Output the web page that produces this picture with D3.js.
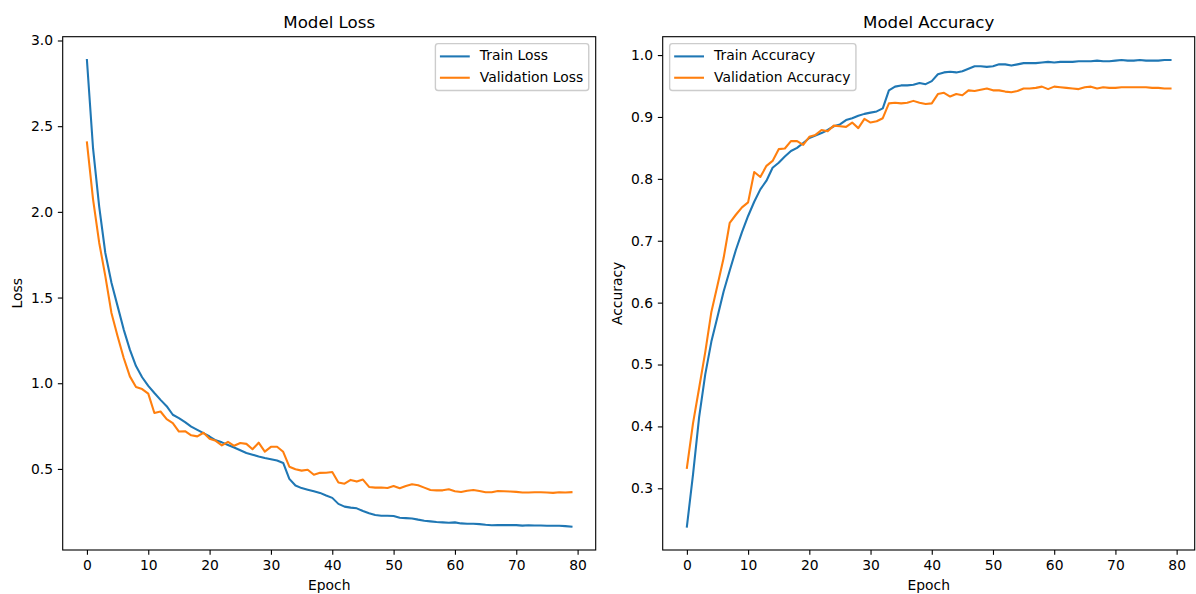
<!DOCTYPE html>
<html>
<head>
<meta charset="utf-8">
<script src="https://cdn.jsdelivr.net/npm/d3@7"></script>
<style>
  html, body { margin: 0; padding: 0; background: #ffffff; }
  svg { display: block; }
  text { font-family: "DejaVu Sans", sans-serif; fill: #000; }
</style>
</head>
<body>
<svg id="chart" width="1196" height="594"></svg>
<script>
// Training history, one value per epoch (0-79)
const trainLoss = [
  2.886, 2.37, 2.03, 1.76, 1.586, 1.45, 1.313, 1.196, 1.10, 1.035,
  0.985, 0.943, 0.903, 0.866, 0.816, 0.796, 0.773, 0.747, 0.728, 0.709,
  0.689, 0.667, 0.655, 0.640, 0.625, 0.609, 0.593, 0.583, 0.573, 0.564,
  0.557, 0.549, 0.535, 0.442, 0.403, 0.388, 0.379, 0.370, 0.360, 0.345,
  0.331, 0.296, 0.280, 0.274, 0.270, 0.254, 0.241, 0.231, 0.227, 0.227,
  0.225, 0.215, 0.213, 0.211, 0.204, 0.198, 0.194, 0.190, 0.188, 0.186,
  0.188, 0.182, 0.180, 0.180, 0.178, 0.174, 0.171, 0.172, 0.172, 0.172,
  0.172, 0.169, 0.171, 0.170, 0.170, 0.168, 0.168, 0.168, 0.166, 0.163
];
const valLoss = [
  2.405, 2.073, 1.82, 1.625, 1.41, 1.274, 1.147, 1.04, 0.978, 0.966,
  0.939, 0.826, 0.835, 0.79, 0.767, 0.718, 0.72, 0.696, 0.69, 0.711,
  0.676, 0.664, 0.637, 0.658, 0.635, 0.651, 0.646, 0.615, 0.653, 0.601,
  0.629, 0.629, 0.600, 0.513, 0.498, 0.49, 0.495, 0.466, 0.477, 0.478,
  0.482, 0.421, 0.414, 0.436, 0.426, 0.438, 0.395, 0.391, 0.392, 0.389,
  0.40, 0.387, 0.40, 0.41, 0.405, 0.391, 0.377, 0.375, 0.375, 0.381,
  0.37, 0.365, 0.373, 0.377, 0.371, 0.364, 0.364, 0.371, 0.37, 0.368,
  0.366, 0.362, 0.362, 0.364, 0.364, 0.362, 0.360, 0.364, 0.362, 0.364
];
const trainAcc = [
  0.238, 0.322, 0.415, 0.484, 0.537, 0.577, 0.618, 0.652, 0.685, 0.714,
  0.740, 0.763, 0.783, 0.797, 0.818, 0.826, 0.836, 0.845, 0.850, 0.858,
  0.866, 0.870, 0.874, 0.879, 0.885, 0.888, 0.895, 0.898, 0.902, 0.905,
  0.907, 0.909, 0.914, 0.943, 0.949, 0.951, 0.951, 0.952, 0.955, 0.953,
  0.958, 0.969, 0.972, 0.973, 0.972, 0.974, 0.978, 0.982, 0.982, 0.981,
  0.982, 0.985, 0.985, 0.983, 0.985, 0.987, 0.987, 0.987, 0.988, 0.989,
  0.988, 0.989, 0.989, 0.989, 0.990, 0.990, 0.990, 0.991, 0.990, 0.990,
  0.991, 0.992, 0.991, 0.991, 0.992, 0.991, 0.991, 0.991, 0.992, 0.992
];
const valAcc = [
  0.333, 0.405, 0.462, 0.52, 0.585, 0.628, 0.672, 0.729, 0.742, 0.754,
  0.762, 0.811, 0.803, 0.821, 0.829, 0.848, 0.849, 0.861, 0.861, 0.855,
  0.868, 0.871, 0.879, 0.877, 0.886, 0.885, 0.884, 0.891, 0.882, 0.897,
  0.891, 0.893, 0.898, 0.922, 0.923, 0.922, 0.923, 0.926, 0.923, 0.921,
  0.922, 0.937, 0.939, 0.933, 0.937, 0.935, 0.943, 0.942, 0.944, 0.946,
  0.943, 0.943, 0.941, 0.940, 0.942, 0.946, 0.946, 0.947, 0.949, 0.945,
  0.949, 0.948, 0.947, 0.946, 0.945, 0.948, 0.949, 0.946, 0.948, 0.947,
  0.947, 0.948, 0.948, 0.948, 0.948, 0.948, 0.947, 0.947, 0.946, 0.946
];

// Axis tick values
const epochTicks = [0, 10, 20, 30, 40, 50, 60, 70, 80];
const lossTicks = [0.5, 1.0, 1.5, 2.0, 2.5, 3.0];
const accTicks = [0.3, 0.4, 0.5, 0.6, 0.7, 0.8, 0.9, 1.0];

const BLUE = "#1f77b4", ORANGE = "#ff7f0e";
const PT = 100 / 72;               // pixels per point at 100 dpi
const TICK_FS = 10 * PT;           // 13.89px
const TITLE_FS = 12 * PT;          // 16.67px

const svg = d3.select("#chart");

// Pad a data extent by 5% on each side, like matplotlib autoscaling
function padded(ext) {
  const m = (ext[1] - ext[0]) * 0.05;
  return [ext[0] - m, ext[1] + m];
}

function panel(opts) {
  const { left, top, width, height, title, ylabel, series, yTicks, legendPos } = opts;
  const g = svg.append("g").attr("transform", `translate(${left},${top})`);

  const n = series[0].values.length;
  const x = d3.scaleLinear().domain(padded([0, n - 1])).range([0, width]);
  const allVals = series.flatMap(s => s.values);
  const y = d3.scaleLinear().domain(padded(d3.extent(allVals))).range([height, 0]);

  // Lines
  const line = d3.line().x((d, i) => x(i)).y(d => y(d));
  series.forEach(s => {
    g.append("path")
      .datum(s.values)
      .attr("d", line)
      .attr("fill", "none")
      .attr("stroke", s.color)
      .attr("stroke-width", 1.5 * PT)
      .attr("stroke-linejoin", "round")
      .attr("stroke-linecap", "square");
  });

  // Axes
  const tickLen = 3.5 * PT;
  const xAxis = d3.axisBottom(x).tickValues(epochTicks).tickFormat(d3.format("d"))
    .tickSize(tickLen).tickPadding(tickLen).tickSizeOuter(0);
  const yAxis = d3.axisLeft(y).tickValues(yTicks).tickFormat(d3.format(".1f"))
    .tickSize(tickLen).tickPadding(tickLen).tickSizeOuter(0);

  const gx = g.append("g").attr("transform", `translate(0,${height})`).call(xAxis);
  const gy = g.append("g").call(yAxis);
  [gx, gy].forEach(a => {
    a.select(".domain").remove();
    a.selectAll(".tick line").attr("stroke", "#000").attr("stroke-width", 0.8 * PT);
    a.selectAll(".tick text")
      .attr("fill", "#000")
      .style("font-family", "'DejaVu Sans', sans-serif")
      .style("font-size", TICK_FS + "px");
  });

  // Frame (all four spines)
  g.append("rect")
    .attr("x", 0).attr("y", 0).attr("width", width).attr("height", height)
    .attr("fill", "none").attr("stroke", "#000").attr("stroke-width", 0.8 * PT);

  // Title
  g.append("text")
    .attr("x", width / 2).attr("y", -6 * PT)
    .attr("text-anchor", "middle")
    .style("font-size", TITLE_FS + "px")
    .text(title);

  // Axis labels
  g.append("text")
    .attr("x", width / 2).attr("y", height + 39.6)
    .attr("text-anchor", "middle")
    .style("font-size", TICK_FS + "px")
    .text("Epoch");

  g.append("text")
    .attr("transform", `translate(${opts.ylabelX},${height / 2}) rotate(-90)`)
    .attr("text-anchor", "middle")
    .style("font-size", TICK_FS + "px")
    .text(ylabel);

  // Legend
  const fs = TICK_FS;
  const pad = 0.4 * fs, handleLen = 2 * fs, handleGap = 0.8 * fs, rowSpace = 0.5 * fs;
  const rowH = 14.4, ascent = 11.0;
  const measure = g.append("text").style("font-size", fs + "px");
  const textW = d3.max(series, s => {
    measure.text(s.label);
    return measure.node().getComputedTextLength();
  });
  measure.remove();
  const lw = pad * 2 + handleLen + handleGap + textW;
  const lh = pad * 2 + rowH * series.length + rowSpace * (series.length - 1);
  const inset = 0.5 * fs;
  const lx = legendPos === "right" ? width - inset - lw : inset;
  const ly = inset;

  const lg = g.append("g").attr("transform", `translate(${lx},${ly})`);
  lg.append("rect")
    .attr("width", lw).attr("height", lh)
    .attr("rx", 0.2 * fs).attr("ry", 0.2 * fs)
    .attr("fill", "#fff").attr("fill-opacity", 0.8)
    .attr("stroke", "#cccccc").attr("stroke-width", 1 * PT);

  series.forEach((s, i) => {
    const rowTop = pad + i * (rowH + rowSpace);
    const cy = rowTop + rowH / 2;
    lg.append("line")
      .attr("x1", pad).attr("x2", pad + handleLen)
      .attr("y1", cy).attr("y2", cy)
      .attr("stroke", s.color).attr("stroke-width", 1.5 * PT)
      .attr("stroke-linecap", "square");
    lg.append("text")
      .attr("x", pad + handleLen + handleGap)
      .attr("y", rowTop + ascent)
      .style("font-size", fs + "px")
      .text(s.label);
  });
}

panel({
  left: 62.7, top: 36.7, width: 533, height: 513.3,
  title: "Model Loss", ylabel: "Loss", ylabelX: -40.7,
  yTicks: lossTicks, legendPos: "right",
  series: [
    { label: "Train Loss", values: trainLoss, color: BLUE },
    { label: "Validation Loss", values: valLoss, color: ORANGE }
  ]
});

panel({
  left: 662.7, top: 36.7, width: 532, height: 513.3,
  title: "Model Accuracy", ylabel: "Accuracy", ylabelX: -40.7,
  yTicks: accTicks, legendPos: "left",
  series: [
    { label: "Train Accuracy", values: trainAcc, color: BLUE },
    { label: "Validation Accuracy", values: valAcc, color: ORANGE }
  ]
});
</script>
</body>
</html>
